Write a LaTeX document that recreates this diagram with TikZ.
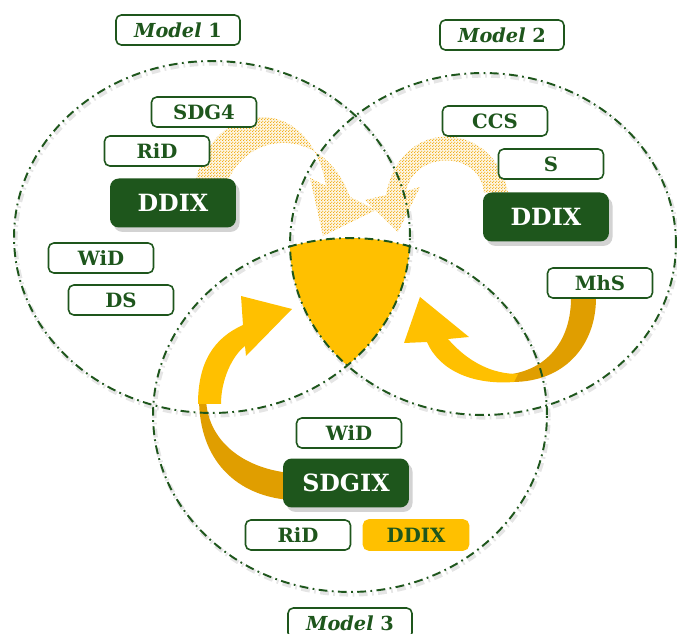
\documentclass[tikz,border=0pt]{standalone}
\usepackage{fontspec}
\setmainfont{DejaVu Serif}
\usetikzlibrary{patterns,shadows}
\definecolor{dgreen}{RGB}{30,86,28}
\definecolor{gold}{RGB}{255,192,0}
\definecolor{dgold}{RGB}{224,158,0}
\definecolor{dotgold}{RGB}{242,176,30}
\pgfdeclarepatternformonly{finedots}{\pgfpointorigin}{\pgfpoint{1.5pt}{1.5pt}}{\pgfpoint{1.5pt}{1.5pt}}{%
  \pgfpathcircle{\pgfpoint{0.37pt}{0.37pt}}{0.42pt}\pgfusepath{fill}
  \pgfpathcircle{\pgfpoint{1.12pt}{1.12pt}}{0.42pt}\pgfusepath{fill}}
\begin{document}
\begin{tikzpicture}[x=0.02cm,y=-0.02cm,
  venn/.style={dgreen, line width=1.1pt, dash pattern=on 5pt off 2.5pt on 1pt off 2.5pt},
  vennshadow/.style={black!10, line width=2.4pt, dash pattern=on 5pt off 2.5pt on 1pt off 2.5pt},
  wbox/.style={draw=dgreen, line width=0.9pt, fill=white, rounded corners=3pt, minimum width=2.1cm, minimum height=0.6cm, inner sep=0pt, text=dgreen, font=\fontsize{11.2}{13}\selectfont\bfseries},
  gbox/.style={fill=dgreen, rounded corners=5pt, minimum width=2.52cm, minimum height=0.98cm, inner sep=0pt, text=white, font=\fontsize{13.5}{15}\selectfont\bfseries, drop shadow={shadow xshift=2pt, shadow yshift=-2.5pt, opacity=0.35}},
  ybox/.style={wbox, draw=gold, fill=gold},
  mbox/.style={wbox, minimum width=2.48cm, font=\fontsize{11}{13}\selectfont\bfseries},
  dotarrow/.style={fill=dotgold!12, postaction={pattern=finedots, pattern color=dotgold}}]
\useasboundingbox (0,0) rectangle (677,634);

% soft shadows of the three models
\foreach \cx/\cy/\rx/\ry in {212/237/3.96/3.52, 483/244/3.86/3.42, 350/415/3.94/3.54}
  \draw[vennshadow] (\cx+1.5,\cy+2.5) ellipse [x radius=\rx cm, y radius=\ry cm];

% common part of the three models
\begin{scope}
\clip (212,237) ellipse [x radius=3.96cm, y radius=3.52cm];
\clip (483,244) ellipse [x radius=3.86cm, y radius=3.42cm];
\fill[gold] (350,415) ellipse [x radius=3.94cm, y radius=3.54cm];
\end{scope}

% dotted arrows (models 1 and 2)
\fill[dotarrow] (196,180) .. controls (212,100) and (310,90) .. (326,186) -- (310,178) -- (323,236) -- (376,210) -- (350,197) .. controls (325,128) and (252,128) .. (228,180) -- cycle;
\fill[dotarrow] (508,193) .. controls (495,120) and (400,115) .. (386,195) -- (365,200) -- (398,232) -- (420,187) -- (406,191) .. controls (415,150) and (480,150) .. (484,193) -- cycle;

% arrow from MhS
\fill[dgold] (512,374) .. controls (548,368) and (571,340) .. (571,298) -- (596,298) .. controls (596,345) and (565,382) .. (512,382) -- cycle;
\fill[gold] (404,343) -- (420,297) -- (469,337) -- (448,339) .. controls (468,362) and (492,374) .. (518,374) -- (514,382) .. controls (475,385) and (440,372) .. (427,342) -- cycle;

% arrow from SDGIX
\fill[dgold] (199,398) .. controls (199,462) and (238,496) .. (290,500) -- (290,473) .. controls (242,468) and (207,440) .. (206,398) -- cycle;
\fill[gold] (198,404) .. controls (198,362) and (214,338) .. (243,325) -- (241,296) -- (292,309) -- (246,356) -- (245,346) .. controls (232,356) and (221,380) .. (221,404) -- cycle;

% the three models
\foreach \cx/\cy/\rx/\ry in {212/237/3.96/3.52, 483/244/3.86/3.42, 350/415/3.94/3.54}
  \draw[venn] (\cx,\cy) ellipse [x radius=\rx cm, y radius=\ry cm];

\node[mbox] (m1) at (178,30) {\textit{Model} 1};
\node[mbox] (m2) at (502,35) {\textit{Model} 2};
\node[mbox] (m3) at (350,623) {\textit{Model} 3};

\node[wbox] (sdg4) at (204,112) {SDG4};
\node[wbox] (rid1) at (157,151) {RiD};
\node[gbox] (ddix1) at (173,203) {DDIX};
\node[wbox] (wid1) at (101,258) {WiD};
\node[wbox] (ds) at (121,300) {DS};

\node[wbox] (ccs) at (495,121) {CCS};
\node[wbox] (s) at (551,164) {S};
\node[gbox] (ddix2) at (546,217) {DDIX};
\node[wbox] (mhs) at (600,283) {MhS};

\node[wbox] (wid3) at (349,433) {WiD};
\node[gbox] (sdgix) at (346,483) {SDGIX};
\node[wbox] (rid3) at (298,535) {RiD};
\node[ybox] (ddix3) at (416,535) {DDIX};
\end{tikzpicture}
\end{document}
